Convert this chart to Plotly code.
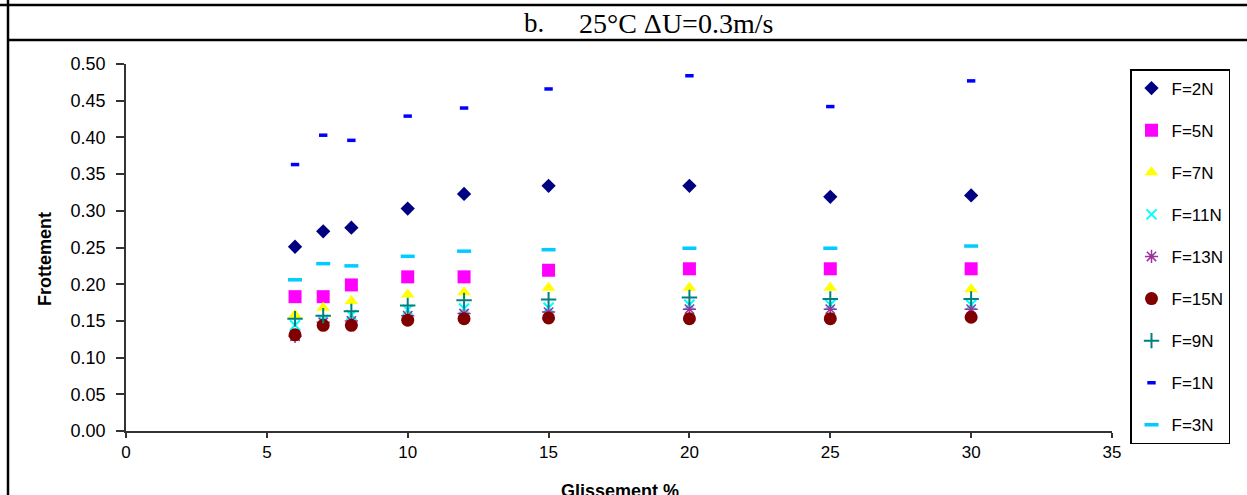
import plotly.graph_objects as go

# Data
glissement = [6, 7, 8, 10, 12, 15, 20, 25, 30]

f2n = [0.251, 0.272, 0.277, 0.303, 0.323, 0.334, 0.334, 0.319, 0.321]
f5n = [0.183, 0.183, 0.199, 0.210, 0.210, 0.219, 0.221, 0.221, 0.221]
f7n = [0.158, 0.168, 0.177, 0.186, 0.189, 0.195, 0.195, 0.195, 0.193]
f11n = [0.144, 0.151, 0.158, 0.165, 0.167, 0.168, 0.172, 0.172, 0.172]
f13n = [0.129, 0.148, 0.150, 0.157, 0.160, 0.162, 0.166, 0.166, 0.166]
f15n = [0.131, 0.144, 0.144, 0.151, 0.153, 0.154, 0.153, 0.153, 0.155]
f9n = [0.153, 0.157, 0.163, 0.171, 0.178, 0.179, 0.182, 0.180, 0.180]
f1n = [0.363, 0.403, 0.396, 0.429, 0.440, 0.466, 0.484, 0.442, 0.477]
f3n = [0.206, 0.228, 0.225, 0.238, 0.245, 0.247, 0.249, 0.249, 0.252]

series_names = ["F=2N", "F=5N", "F=7N", "F=11N", "F=13N", "F=15N", "F=9N", "F=1N", "F=3N"]
series_values = [f2n, f5n, f7n, f11n, f13n, f15n, f9n, f1n, f3n]

x_ticks = [0, 5, 10, 15, 20, 25, 30, 35]
y_ticks = [0, 0.05, 0.1, 0.15, 0.2, 0.25, 0.3, 0.35, 0.4, 0.45, 0.5]

styles = [
    dict(symbol="diamond", size=11, color="#000080", line=dict(width=0)),
    dict(symbol="square", size=13, color="#FF00FF", line=dict(width=0)),
    dict(symbol="triangle-up", size=12, color="#FFFF00", line=dict(width=0)),
    dict(symbol="x-thin", size=10, color="#00FFFF", line=dict(width=2, color="#00FFFF")),
    dict(symbol="asterisk", size=11, color="#993399", line=dict(width=1.5, color="#993399")),
    dict(symbol="circle", size=13, color="#800000", line=dict(width=0)),
    dict(symbol="cross-thin", size=11, color="#008080", line=dict(width=2, color="#008080")),
    dict(symbol="line-ew", size=6, color="#0000FF", line=dict(width=3.5, color="#0000FF")),
    dict(symbol="line-ew", size=10, color="#00CCFF", line=dict(width=3.5, color="#00CCFF")),
]

fig = go.Figure()
for i, (name, vals, st) in enumerate(zip(series_names, series_values, styles)):
    fig.add_trace(go.Scatter(
        x=glissement, y=vals, mode="markers", name=name,
        marker=st, legendgroup=f"g{i}", showlegend=True,
    ))

W, H = 1247, 495
L, R, T, B = 126, 1112, 64, 431  # plot area in pixels


def px(x):
    return (x - L) / (R - L)


def py(y):
    return (B - y) / (B - T)


shapes = [
    dict(type="line", xref="paper", yref="paper", x0=px(0), x1=px(W), y0=py(5), y1=py(5),
         line=dict(color="black", width=2.5)),
    dict(type="line", xref="paper", yref="paper", x0=px(8), x1=px(W), y0=py(40), y1=py(40),
         line=dict(color="black", width=2.5)),
    dict(type="line", xref="paper", yref="paper", x0=px(8), x1=px(8), y0=py(0), y1=py(H),
         line=dict(color="black", width=2.5)),
]

annotations = [
    dict(text="b.", xref="paper", yref="paper",
         x=px(534), y=py(23), xanchor="center", yanchor="middle", showarrow=False,
         font=dict(family="Liberation Serif", size=27, color="black")),
    dict(text="25°C ΔU=0.3m/s", xref="paper", yref="paper",
         x=px(676), y=py(23), xanchor="center", yanchor="middle", showarrow=False,
         font=dict(family="Liberation Serif", size=28, color="black")),
    dict(text="<b>Frottement</b>", xref="paper", yref="paper", x=px(45), y=py(259),
         xanchor="center", yanchor="middle", textangle=-90, showarrow=False,
         font=dict(family="Liberation Sans", size=18, color="black")),
    dict(text="<b>Glissement %</b>", xref="paper", yref="paper", x=px(620), y=py(491),
         xanchor="center", yanchor="middle", showarrow=False,
         font=dict(family="Liberation Sans", size=18, color="black")),
]

fig.update_layout(
    width=W, height=H,
    margin=dict(l=L, r=W - R, t=T, b=H - B, pad=0),
    paper_bgcolor="white", plot_bgcolor="white",
    font=dict(family="Liberation Sans", size=17, color="black"),
    showlegend=True,
    legend=dict(
        x=px(1130), y=py(69), xanchor="left", yanchor="top",
        bordercolor="black", borderwidth=1.5, bgcolor="white",
        font=dict(family="Liberation Sans", size=17, color="black"),
        tracegroupgap=17, itemwidth=30, maxheight=600,
    ),
    shapes=shapes,
    annotations=annotations,
)

fig.update_xaxes(
    range=[0, 35], tickvals=x_ticks,
    showgrid=False, zeroline=False, showline=True, linecolor="#333333", linewidth=1.5,
    ticks="outside", ticklen=5, tickcolor="#333333", tickwidth=1.5,
    tickfont=dict(family="Liberation Sans", size=17, color="black"),
)
fig.update_yaxes(
    range=[0, 0.5], tickvals=y_ticks,
    tickformat=".2f",
    showgrid=False, zeroline=False, showline=True, linecolor="#333333", linewidth=1.5,
    ticks="outside", ticklen=8, tickcolor="#333333", tickwidth=1.5,
    ticklabelstandoff=7,
    tickfont=dict(family="Liberation Sans", size=18, color="black"),
)

fig.write_html("out.html", config={"displayModeBar": False},
               post_script="document.body.style.margin='0px';")
